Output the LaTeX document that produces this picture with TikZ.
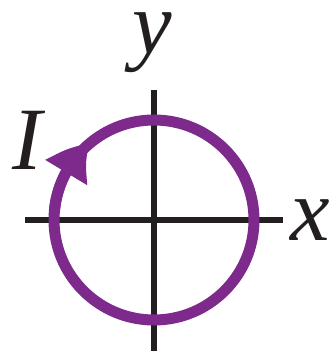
\documentclass[tikz,border=0pt]{standalone}
\usepackage{fontspec}
\setmainfont{Liberation Serif}
\usepackage{xcolor}
\usepackage{tikz}
\usetikzlibrary{arrows.meta, bending}

\definecolor{ringviolet}{RGB}{125,42,140}
\definecolor{axisblack}{RGB}{35,31,32}

\begin{document}
\begin{tikzpicture}[x=1pt, y=1pt]
    % Styles
    \tikzstyle{axisline} = [draw, line width=6pt, color=axisblack]
    \tikzstyle{ring} = [draw, line width=11pt, color=ringviolet]
    \tikzstyle{letter} = [font=\fontsize{89}{89}\selectfont\itshape, inner sep=0pt, anchor=base, text=axisblack]

    % Frame
    \useasboundingbox (-154,-131) rectangle (178,220);

    % Coordinates
    \coordinate (o) at (0,0);
    \coordinate (xleft) at (-129,0);
    \coordinate (xright) at (129,0);
    \coordinate (ybottom) at (0,-131);
    \coordinate (ytop) at (0,130);

    % Nodes
    \node [letter] (ylabel) at (-2,166) {y};
    \node [letter] (xlabel) at (156,-20) {x};
    \node [letter] (current) at (-127,50) {I};

    % Axes
    \draw [axisline] (xleft) -- (xright);
    \draw [axisline] (ybottom) -- (ytop);

    % Current loop
    \draw [ring] (o) circle [radius=100pt];
    \draw [ring, -{Triangle[width=46pt, length=38pt, bend]}] (o) ++(175:100pt) arc [start angle=175, end angle=130, radius=100pt];
\end{tikzpicture}
\end{document}
